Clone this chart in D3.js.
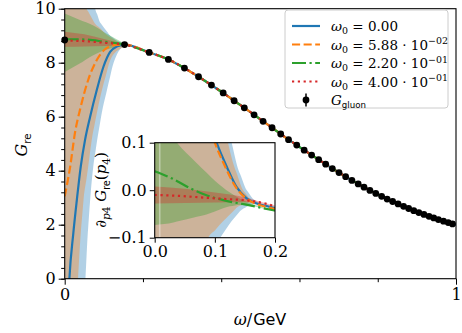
<!DOCTYPE html>
<html><head><meta charset="utf-8">
<script src="https://cdn.jsdelivr.net/npm/d3@7"></script>
<style>body{margin:0;background:#fff}</style>
</head><body><svg id="c" width="462" height="333"></svg>
<script>
// ---------------- data ----------------
const omega = [0, 0.153, 0.216, 0.265, 0.306, 0.342, 0.375, 0.405, 0.433, 0.459, 0.484, 0.507, 0.530, 0.552, 0.572, 0.593, 0.612, 0.631, 0.649, 0.667, 0.684, 0.701, 0.718, 0.734, 0.750, 0.765, 0.780, 0.795, 0.810, 0.824, 0.838, 0.852, 0.866, 0.879, 0.892, 0.905, 0.918, 0.931, 0.943, 0.955, 0.968, 0.980, 0.991];
const gGluon = [8.84, 8.67, 8.38, 8.12, 7.80, 7.48, 7.17, 6.88, 6.59, 6.33, 6.07, 5.83, 5.59, 5.36, 5.15, 4.95, 4.76, 4.58, 4.41, 4.24, 4.08, 3.93, 3.78, 3.64, 3.51, 3.39, 3.27, 3.16, 3.05, 2.95, 2.86, 2.77, 2.68, 2.60, 2.52, 2.45, 2.38, 2.31, 2.25, 2.19, 2.13, 2.08, 2.03];
const gErr = omega.map(() => 0.04);
const tailEnd = [[1.0, 2.0]];

// low-omega parts of the reconstructions [omega, G]
const lowBlue   = [[0.006,-2.0],[0.012,0],[0.022,1.68],[0.031,2.91],[0.041,4.15],[0.052,5.14],[0.065,6.0],[0.082,6.99],[0.099,7.85],[0.116,8.40],[0.133,8.60]];
const lowOrange = [[0.0,3.05],[0.014,4.15],[0.026,5.38],[0.041,6.37],[0.060,7.36],[0.082,8.10],[0.103,8.50],[0.124,8.64]];
const lowGreen  = [[0.0,8.87],[0.05,8.86],[0.1,8.78]];
const lowRed    = [[0.0,8.82],[0.05,8.80],[0.1,8.74]];

// uncertainty bands [omega, value]
const bandBlueLo   = [[0.0,-30],[0.040,-3],[0.053,0],[0.059,1.68],[0.065,2.91],[0.073,4.15],[0.083,5.14],[0.093,6.0],[0.108,6.99],[0.122,7.85],[0.135,8.35],[0.153,8.62]];
const bandBlueHi   = [[0.0,30],[0.06,12],[0.078,10],[0.09,9.5],[0.116,9.0],[0.135,8.8],[0.153,8.72]];
const bandOrangeLo = [[0.0,-30],[0.02,-4],[0.034,0],[0.041,1.68],[0.048,2.9],[0.06,4.15],[0.072,5.4],[0.09,6.67],[0.111,7.85],[0.13,8.4],[0.153,8.62]];
const bandOrangeHi = [[0.0,30],[0.045,11],[0.056,10],[0.075,9.5],[0.11,9.0],[0.135,8.78],[0.153,8.7]];
const bandGreenLo  = [[0.0,7.66],[0.036,7.95],[0.073,8.28],[0.11,8.5],[0.153,8.63]];
const bandGreenHi  = [[0.0,9.82],[0.036,9.6],[0.073,9.38],[0.11,9.05],[0.153,8.71]];
const bandRedLo    = [[0.0,8.59],[0.05,8.60],[0.1,8.62],[0.153,8.64]];
const bandRedHi    = [[0.0,9.15],[0.05,9.05],[0.1,8.88],[0.153,8.70]];

// inset: derivative
const dBlue   = [[0.095,0.13],[0.103,0.1],[0.12,0.049],[0.136,0.007],[0.153,-0.017],[0.167,-0.027],[0.185,-0.033],[0.2,-0.038]];
const dOrange = [[0.092,0.13],[0.100,0.1],[0.117,0.05],[0.133,0.01],[0.15,-0.015],[0.167,-0.028],[0.185,-0.035],[0.2,-0.040]];
const dGreen  = [[0.0,0.040],[0.03,0.024],[0.059,0.004],[0.085,-0.010],[0.114,-0.021],[0.15,-0.030],[0.2,-0.043]];
const dRed    = [[0.0,-0.010],[0.04,-0.012],[0.086,-0.016],[0.125,-0.019],[0.158,-0.022],[0.18,-0.027],[0.2,-0.034]];
const dBandBlueLo   = [[0.0,-0.5],[0.09,-0.3],[0.109,-0.1],[0.128,-0.065],[0.142,-0.044],[0.155,-0.033],[0.165,-0.029],[0.2,-0.041]];
const dBandBlueHi   = [[0.0,0.5],[0.11,0.2],[0.128,0.1],[0.14,0.04],[0.153,0.0],[0.165,-0.02],[0.2,-0.036]];
const dBandOrangeLo = [[0.0,-0.5],[0.08,-0.3],[0.089,-0.1],[0.114,-0.065],[0.136,-0.037],[0.15,-0.029],[0.16,-0.027],[0.2,-0.042]];
const dBandOrangeHi = [[0.0,0.5],[0.1,0.25],[0.122,0.1],[0.135,0.04],[0.147,0.0],[0.16,-0.02],[0.2,-0.038]];
const dBandGreenLo  = [[0.0,-0.073],[0.031,-0.068],[0.086,-0.051],[0.125,-0.034],[0.142,-0.031],[0.16,-0.033],[0.2,-0.045]];
const dBandGreenHi  = [[0.0,0.16],[0.037,0.1],[0.07,0.057],[0.1,0.02],[0.125,-0.005],[0.142,-0.018],[0.16,-0.028],[0.2,-0.041]];
const dBandRedLo    = [[0.0,-0.028],[0.05,-0.027],[0.1,-0.026],[0.15,-0.025],[0.17,-0.027],[0.2,-0.036]];
const dBandRedHi    = [[0.0,0.008],[0.05,0.003],[0.1,-0.005],[0.15,-0.015],[0.17,-0.022],[0.2,-0.032]];

const legendMant = ["0.00", "5.88", "2.20", "4.00"];
const legendExp  = [null, "\u221202", "\u221201", "\u221201"];
const xTicks = [0, 1], xMinor = [0.2, 0.4, 0.6, 0.8];
const yTicks = [0, 2, 4, 6, 8, 10];
const insetXTicks = [0.0, 0.1, 0.2], insetYTicks = [-0.1, 0.0, 0.1];

// ---------------- styles ----------------
const C = {blue:"#1f77b4", orange:"#ff7f0e", green:"#2ca02c", red:"#d62728"};
const LW = 2.2;
const dashes = {blue:null, orange:"8.1,3.5", green:"14,3.5,2.2,3.5", red:"2.2,3.6"};
const SERIF = "'DejaVu Serif','Liberation Serif',serif";
const SANS = "'DejaVu Sans','Liberation Sans',sans-serif";
const BAND_OP = 0.35;
const TICK_FS = 16;

const svg = d3.select("#c");
const L = 64.7, R = 456, T = 8.7, B = 278.7;
const x = d3.scaleLinear([0, 1], [L, R]);
const y = d3.scaleLinear([0, 10], [B, T]);

svg.append("defs").append("clipPath").attr("id","mainclip").append("rect")
  .attr("x",L).attr("y",T).attr("width",R-L).attr("height",B-T);

const main = svg.append("g").attr("clip-path","url(#mainclip)");

const area = (xs, ys) => d3.area().x(d=>xs(d[0])).y0(d=>ys(d[1])).y1(d=>ys(d[2])).curve(d3.curveMonotoneX);
function mergeBand(lo, hi){
  const xsv = Array.from(new Set([...lo.map(d=>d[0]), ...hi.map(d=>d[0])])).sort((a,b)=>a-b);
  const interp = (arr, t) => {
    for (let i=0;i<arr.length-1;i++){ if (t>=arr[i][0] && t<=arr[i+1][0]){ const f=(t-arr[i][0])/(arr[i+1][0]-arr[i][0]); return arr[i][1]+f*(arr[i+1][1]-arr[i][1]); } }
    return t<arr[0][0]?arr[0][1]:arr[arr.length-1][1];
  };
  return xsv.map(t=>[t, interp(lo,t), interp(hi,t)]);
}
const mainBands = [
  [bandBlueLo, bandBlueHi, C.blue], [bandOrangeLo, bandOrangeHi, C.orange],
  [bandGreenLo, bandGreenHi, C.green], [bandRedLo, bandRedHi, C.red]];
mainBands.forEach(([lo,hi,col]) => {
  main.append("path").datum(mergeBand(lo,hi)).attr("d", area(x,y)).attr("fill",col).attr("fill-opacity",BAND_OP).attr("stroke","none");
});

const common = omega.map((w,i)=>[w,gGluon[i]]).filter(d=>d[0]>=0.15).concat(tailEnd);
const lineGen = (xs, ys) => d3.line().x(d=>xs(d[0])).y(d=>ys(d[1])).curve(d3.curveMonotoneX);
const mainLines = [[lowBlue,"blue"],[lowOrange,"orange"],[lowGreen,"green"],[lowRed,"red"]];
mainLines.forEach(([low,k]) => {
  main.append("path").datum(low.concat(common)).attr("d", lineGen(x,y)).attr("fill","none")
    .attr("stroke",C[k]).attr("stroke-width",LW).attr("stroke-dasharray",dashes[k]);
});

// data points with errorbars
const pts = svg.append("g");
omega.forEach((w,i)=>{
  pts.append("line").attr("x1",x(w)).attr("x2",x(w)).attr("y1",y(gGluon[i]-gErr[i])).attr("y2",y(gGluon[i]+gErr[i])).attr("stroke","#000").attr("stroke-width",1.5);
  pts.append("circle").attr("cx",x(w)).attr("cy",y(gGluon[i])).attr("r",3.4).attr("fill","#000");
});

// ---------------- axes ----------------
function styleAxis(g){ g.selectAll(".domain").remove(); g.selectAll("line").attr("stroke","#000").attr("stroke-width",1); g.selectAll("text").attr("font-family",SERIF).attr("font-size",TICK_FS).attr("fill","#000"); }
const gy = svg.append("g").attr("transform",`translate(${L},0)`).call(d3.axisLeft(y).tickValues(yTicks).tickSize(6).tickPadding(3).tickFormat(d3.format("d")));
styleAxis(gy);
const gym = svg.append("g").attr("transform",`translate(${L},0)`).call(d3.axisLeft(y).tickValues(d3.range(0,10.001,0.4)).tickSize(3.5).tickFormat(""));
styleAxis(gym);
const gx = svg.append("g").attr("transform",`translate(0,${B})`).call(d3.axisBottom(x).tickValues(xTicks).tickSize(6).tickPadding(4).tickFormat(d3.format("d")));
styleAxis(gx);
const gxm = svg.append("g").attr("transform",`translate(0,${B})`).call(d3.axisBottom(x).tickValues(xMinor).tickSize(3.5).tickFormat(""));
styleAxis(gxm);
svg.append("rect").attr("x",L).attr("y",T).attr("width",R-L).attr("height",B-T).attr("fill","none").attr("stroke","#000").attr("stroke-width",1.1);

// rich text helper
function rich(g, parts, fs){
  const t = g.append("text").attr("font-family",SERIF).attr("font-size",fs).attr("fill","#000");
  let shift = 0;
  parts.forEach(p=>{
    const s = t.append("tspan").text(p.t);
    if (p.it) s.attr("font-style","italic");
    if (p.sans) s.attr("font-family",SANS);
    let target = p.sub ? fs*0.25 : (p.sup ? -fs*0.38 : 0);
    s.attr("dy", target - shift); shift = target;
    if (p.sub || p.sup) s.attr("font-size", fs*0.7);
    if (p.sans && (p.sub||p.sup)) s.attr("font-size", fs*0.64);
    if (p.dx) s.attr("dx", p.dx);
  });
  return t;
}

// axis labels
rich(svg.append("g").attr("transform","translate(27,145) rotate(-90)"), [{t:"G",it:true},{t:"re",sans:true,sub:true}], 16).attr("text-anchor","middle");
rich(svg.append("g").attr("transform","translate(260,325)"), [{t:"ω",it:true},{t:"/"},{t:"GeV",sans:true,dx:1}], 16).attr("text-anchor","middle");

// ---------------- legend ----------------
const lg = svg.append("g");
lg.append("rect").attr("x",285).attr("y",10).attr("width",163).attr("height",98).attr("rx",3).attr("fill","#fff").attr("fill-opacity",0.8).attr("stroke","#cccccc").attr("stroke-width",1);
const keys = ["blue","orange","green","red"];
const ly = [26, 44.5, 63, 81.5, 100];
keys.forEach((k,i)=>{
  lg.append("line").attr("x1",292).attr("x2",320).attr("y1",ly[i]).attr("y2",ly[i]).attr("stroke",C[k]).attr("stroke-width",LW).attr("stroke-dasharray",dashes[k]);
  const parts = [{t:"ω",it:true},{t:"0",sub:true},{t:" = "+legendMant[i]}];
  if (legendExp[i]) { parts.push({t:" · 10"}); parts.push({t:legendExp[i],sup:true}); }
  rich(lg.append("g").attr("transform",`translate(331,${ly[i]+5})`), parts, 13.5);
});
lg.append("line").attr("x1",306).attr("x2",306).attr("y1",ly[4]-6.5).attr("y2",ly[4]+6.5).attr("stroke","#000").attr("stroke-width",1.5);
lg.append("circle").attr("cx",306).attr("cy",ly[4]).attr("r",3.4).attr("fill","#000");
rich(lg.append("g").attr("transform",`translate(331,${ly[4]+5})`), [{t:"G",it:true},{t:"gluon",sans:true,sub:true}], 13.5);

// ---------------- inset ----------------
const iL = 154.7, iR = 275, iT = 142.7, iB = 237.7;
const xi = d3.scaleLinear([0,0.2],[iL,iR]);
const yi = d3.scaleLinear([-0.1,0.1],[iB,iT]);
svg.append("defs").append("clipPath").attr("id","inclip").append("rect").attr("x",iL).attr("y",iT).attr("width",iR-iL).attr("height",iB-iT);
svg.append("rect").attr("x",iL).attr("y",iT).attr("width",iR-iL).attr("height",iB-iT).attr("fill","#fff");
const ins = svg.append("g").attr("clip-path","url(#inclip)");
const insBands = [[dBandBlueLo,dBandBlueHi,C.blue],[dBandOrangeLo,dBandOrangeHi,C.orange],[dBandGreenLo,dBandGreenHi,C.green],[dBandRedLo,dBandRedHi,C.red]];
insBands.forEach(([lo,hi,col])=>{
  ins.append("path").datum(mergeBand(lo,hi)).attr("d",area(xi,yi)).attr("fill",col).attr("fill-opacity",BAND_OP);
});
ins.append("rect").attr("x",xi(0.007)).attr("y",iT).attr("width",1.6).attr("height",iB-iT).attr("fill","#fff").attr("fill-opacity",0.4);
[[dBlue,"blue"],[dOrange,"orange"],[dGreen,"green"],[dRed,"red"]].forEach(([d,k])=>{
  ins.append("path").datum(d).attr("d",lineGen(xi,yi)).attr("fill","none").attr("stroke",C[k]).attr("stroke-width",LW).attr("stroke-dasharray",dashes[k]);
});
const giy = svg.append("g").attr("transform",`translate(${iL},0)`).call(d3.axisLeft(yi).tickValues(insetYTicks).tickSize(5).tickPadding(3).tickFormat(d=>d3.format(".1f")(d).replace("-","\u2212")));
styleAxis(giy);
const gix = svg.append("g").attr("transform",`translate(0,${iB})`).call(d3.axisBottom(xi).tickValues(insetXTicks).tickSize(5).tickPadding(3).tickFormat(d3.format(".1f")));
styleAxis(gix);
svg.append("rect").attr("x",iL).attr("y",iT).attr("width",iR-iL).attr("height",iB-iT).attr("fill","none").attr("stroke","#000").attr("stroke-width",1.1);
rich(svg.append("g").attr("transform","translate(106,190) rotate(-90)"), [{t:"∂"},{t:"p",it:true,sub:true},{t:"4",sub:true},{t:" G",it:true},{t:"re",sans:true,sub:true},{t:"("},{t:"p",it:true},{t:"4",sub:true},{t:")"}], 15).attr("text-anchor","middle");
</script></body></html>
